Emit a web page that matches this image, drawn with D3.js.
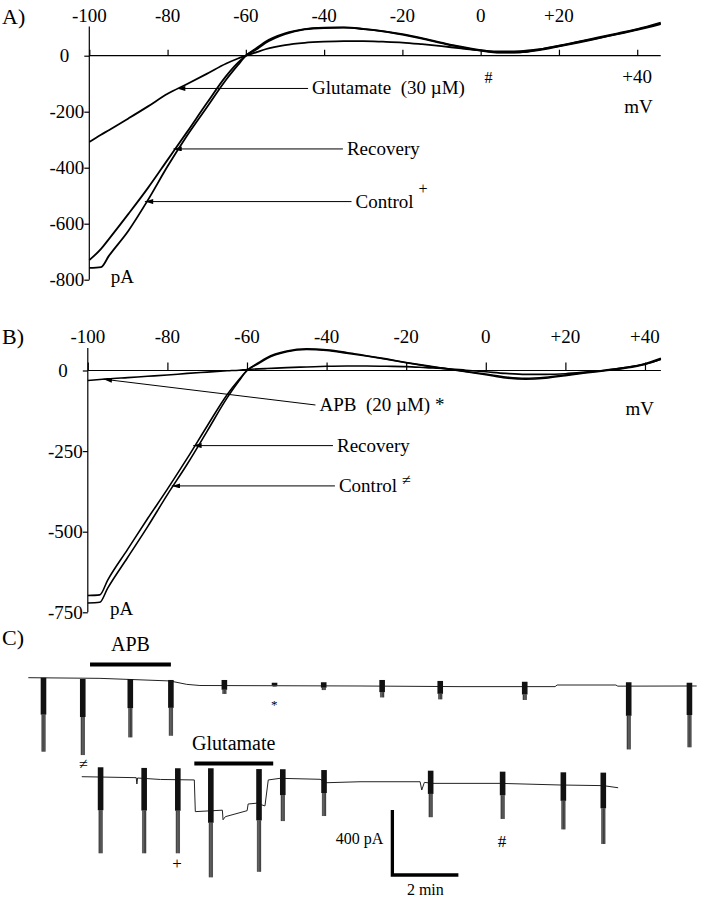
<!DOCTYPE html>
<html><head><meta charset="utf-8">
<script src="https://cdn.jsdelivr.net/npm/d3@7"></script>
<style>
body{margin:0;background:#fff}
svg{display:block}
text{font-family:"Liberation Serif","Times New Roman",Times,serif;fill:#000;white-space:pre}
</style></head><body>
<svg id="fig" width="702" height="900" font-family="Liberation Serif, Times New Roman, serif"></svg>
<script>
// ---------------- DATA ----------------
// Panel A: I–V curves (mV, pA)
const voltageA   = [-100,-97,-95,-90,-85,-80,-75,-70,-65,-62,-60,-57,-55,-50,-45,-40,-35,-30,-25,-20,-15,-10,-5,0,5,10,15,20,25,30,35,40,46];
const glutamateA = [-308,-282,-266,-224,-181,-136,-101,-65,-28,-10,0,14,23,38,46,50,52,52,50,47,41,34,26,19,15,16,23,35,49,63,78,94,115];
const recoveryA  = [-730,-690,-655,-565,-472,-372,-272,-170,-72,-25,0,30,50,80,95,100,101,96,88,77,63,47,32,20,12,12,22,36,50,65,80,95,118];
const controlA   = [-758,-755,-715,-625,-515,-395,-285,-185,-85,-33,0,25,45,77,94,99,100,95,87,75,61,45,30,18,11,12,20,33,47,62,77,92,113];
const xTicksA = [-100,-80,-60,-40,-20,0,20,40];
const yTicksA = [0,-200,-400,-600,-800];

// Panel B: I–V curves (mV, pA)
const voltageB  = [-100,-97,-95,-90,-85,-80,-75,-70,-65,-62,-60,-57,-55,-50,-45,-40,-35,-30,-25,-20,-15,-10,-5,0,5,10,15,20,25,30,35,40,44];
const apbB      = [-31,-28,-26,-22,-18,-14,-9,-5,-1,1,3,5,6,9,11,13,14,14,13,12,9,6,1,-4,-9,-12,-12,-10,-5,1,9,20,35];
const recoveryB = [-698,-696,-650,-555,-460,-368,-272,-172,-75,-28,0,25,40,60,67,64,56,46,36,25,15,6,-3,-11,-20,-24,-21,-14,-6,1,9,21,38];
const controlB  = [-721,-719,-675,-580,-485,-385,-290,-188,-85,-32,0,22,37,58,65,62,54,45,35,24,14,5,-4,-13,-23,-27,-24,-16,-8,-1,7,19,35];
const xTicksB = [-100,-80,-60,-40,-20,0,20,40];
const yTicksB = [0,-250,-500,-750];

// Panel C: holding-current records (time in min, current in pA)
const topBaseT = [0,2.17,4.29,4.80,5.2,10.05,13.08,15.96,16.02,17.8,17.86,20.25];
const topBaseI = [0,-4,-20,-41,-48,-51,-55,-55,-45,-45,-52,-51];
const topSpikeT    = [0.46,1.65,3.09,4.32,5.94,7.46,8.95,10.72,12.48,15.04,18.19,20.03];
const topSpikeTop  = [0,-8,-8,-14,-14,-31,-28,-14,-20,-25,-28,-31];
const topSpikePeak = [-455,-476,-367,-357,-100,-55,-76,-121,-133,-137,-441,-428];

const botBaseT = [1.62,3.27,3.29,3.31,4.0,5.03,5.06,5.88,5.9,5.97,6.63,6.66,6.92,7.17,7.27,7.63,8.84,9.05,10.05,11.87,11.92,12.0,12.26,14.29,16.11,17.42,17.87];
const botBaseI = [0,-6,-45,-8,-17,-20,-215,-206,-265,-246,-209,-168,-163,-180,-20,-10,-16,-37,-31,-31,-82,-35,-41,-41,-51,-55,-68];
const botSpikeT    = [2.19,3.51,4.53,5.53,6.99,7.71,8.96,12.19,14.37,16.21,17.42];
const botSpikeTop  = [58,54,52,52,47,46,41,37,31,27,25];
const botSpikePeak = [-471,-471,-471,-619,-585,-273,-242,-249,-260,-324,-414];

const drugNames = ["APB","Glutamate"];
const drugRow   = [0,1];
const drugStart = [1.87,5.03];
const drugEnd   = [4.32,7.42];

// ---------------- DRAWING ----------------
const FONT = "Liberation Serif, Times New Roman, serif";
const svg = d3.select("#fig");
svg.append("rect").attr("width",702).attr("height",900).attr("fill","#fff");
const defs = svg.append("defs");
defs.append("marker").attr("id","arrow").attr("viewBox","0 0 10 6")
  .attr("refX",10).attr("refY",3).attr("markerWidth",9).attr("markerHeight",5)
  .attr("markerUnits","userSpaceOnUse").attr("orient","auto")
  .append("path").attr("d","M0,0L10,3L0,6Z").attr("fill","#000");

const fmtV = v => v > 0 ? "+" + v : String(v);

function drawIV(p){
  const g = svg.append("g");
  const x = d3.scaleLinear().domain([p.vMin,p.vMax]).range(p.xRange);
  const y = d3.scaleLinear().domain([0,p.iMin]).range(p.yRange);
  // y axis
  g.append("line").attr("x1",x(p.vMin)).attr("x2",x(p.vMin))
    .attr("y1",y(p.iTop)).attr("y2",y(p.iMin)).attr("stroke","#000").attr("stroke-width",1.2);
  const ya = g.append("g").attr("transform",`translate(${x(p.vMin)},0)`)
    .call(d3.axisLeft(y).tickValues(p.yTicks).tickSize(5).tickPadding(0).tickFormat(d=>String(d)));
  ya.attr("font-family",FONT);
  ya.select(".domain").remove();
  ya.selectAll("line").attr("stroke-width",1.2);
  ya.selectAll("text").attr("font-size",19).attr("dy","0.33em").attr("font-family",FONT);
  ya.selectAll("text").filter(d=>d===0).attr("x",-20);
  // x axis at zero current
  g.append("line").attr("x1",x(p.vMin)).attr("x2",x(p.vMax))
    .attr("y1",y(0)).attr("y2",y(0)).attr("stroke","#000").attr("stroke-width",1.2);
  const xa = g.append("g").attr("transform",`translate(0,${y(0)})`)
    .call(d3.axisTop(x).tickValues(p.xTicks).tickSize(p.tickLen).tickFormat(""));
  xa.select(".domain").remove();
  xa.selectAll("line").attr("stroke-width",1.2);
  g.selectAll("text.xl").data(p.xTicks).join("text").attr("class","xl")
    .attr("x",d=>x(d)).attr("y",d=>p.below.includes(d)?p.belowBaseline:p.topBaseline)
    .attr("text-anchor","middle").attr("font-size",19).text(fmtV);
  // curves
  const line = d3.line().x(d=>x(d[0])).y(d=>y(d[1])).curve(d3.curveMonotoneX);
  p.series.forEach(s=>{
    g.append("path").datum(p.voltage.map((v,k)=>[v,s[k]])).attr("d",line)
      .attr("fill","none").attr("stroke","#000").attr("stroke-width",p.sw).attr("stroke-linejoin","round");
  });
  // annotations with arrows
  p.annot.forEach(a=>{
    const ti = a.tipI===undefined ? a.i : a.tipI;
    g.append("line").attr("x1",x(a.tailV)).attr("y1",y(a.i)).attr("x2",x(a.tipV)).attr("y2",y(ti))
      .attr("stroke","#000").attr("stroke-width",1).attr("marker-end","url(#arrow)");
    const t = g.append("text").attr("x",x(a.tailV)+4).attr("y",y(a.i)+6).attr("font-size",19).text(a.label);
    if(a.sup) t.append("tspan").attr("dx",5).attr("dy",a.supDy).attr("font-size",16).text(a.sup);
  });
  // loose labels
  p.labels.forEach(l=>{
    g.append("text").attr("x",x(l.v)).attr("y",y(l.i)).attr("text-anchor",l.anchor||"start")
      .attr("font-size",l.size||19).text(l.text);
  });
}

drawIV({
  vMin:-100, vMax:46, xRange:[89.3,660.7], iMin:-800, iTop:104, yRange:[55.7,279.7],
  xTicks:xTicksA, yTicks:yTicksA, tickLen:6, below:[40], topBaseline:21.7, belowBaseline:83.3,
  voltage:voltageA, series:[glutamateA,recoveryA,controlA], sw:1.8,
  annot:[
    {label:"Glutamate  (30 µM)", tipV:-77.6, tailV:-44.1, i:-117},
    {label:"Recovery", tipV:-78.5, tailV:-35.2, i:-333},
    {label:"Control", sup:"+", supDy:-14, tipV:-85.8, tailV:-33.0, i:-521}
  ],
  labels:[
    {text:"#", v:2.0, i:-98.6, anchor:"middle", size:16},
    {text:"mV", v:40.3, i:-206, anchor:"middle"},
    {text:"pA", v:-94.5, i:-813}
  ]
});

drawIV({
  vMin:-100, vMax:44, xRange:[87.8,660.9], iMin:-750, iTop:70, yRange:[370.5,612.3],
  xTicks:xTicksB, yTicks:yTicksB, tickLen:8, below:[], topBaseline:343.3, belowBaseline:0,
  voltage:voltageB, series:[apbB,recoveryB,controlB], sw:1.6,
  annot:[
    {label:"APB  (20 µM) *", tipV:-96, tipI:-27, tailV:-42.8, i:-107},
    {label:"Recovery", tipV:-73.5, tailV:-38.4, i:-233},
    {label:"Control", sup:"≠", supDy:-7, tipV:-78.9, tailV:-37.9, i:-358}
  ],
  labels:[
    {text:"mV", v:38.7, i:-138, anchor:"middle"},
    {text:"pA", v:-94.4, i:-758}
  ]
});

// panel letters
[["A)",24],["B)",344],["C)",645]].forEach(([t,yy])=>{
  svg.append("text").attr("x",2).attr("y",yy).attr("font-size",22).text(t);
});

// ---------------- Panel C ----------------
const tC = d3.scaleLinear().domain([0,20.25]).range([28.3,696.7]);   // 33 px / min
const iC = d3.scaleLinear().domain([0,-400]).range([0,65]);          // 65 px / 400 pA
const rowY = [677.7,776.7];
const rows = [
  {baseT:topBaseT, baseI:topBaseI, sT:topSpikeT, sTop:topSpikeTop, sPeak:topSpikePeak},
  {baseT:botBaseT, baseI:botBaseI, sT:botSpikeT, sTop:botSpikeTop, sPeak:botSpikePeak}
];
const traceLine = d3.line().x(d=>tC(d[0])).y(d=>iC(d[1]));
rows.forEach((r,ri)=>{
  const g = svg.append("g").attr("transform",`translate(0,${rowY[ri]})`);
  g.append("path").datum(r.baseT.map((t,k)=>[t,r.baseI[k]])).attr("d",traceLine)
    .attr("fill","none").attr("stroke","#222").attr("stroke-width",1);
  r.sT.forEach((t,k)=>{
    const y0 = iC(r.sTop[k]), y1 = iC(r.sPeak[k]);
    const frac = (y1-y0) < 30 ? 0.7 : 0.5;
    const yh = y0 + (y1-y0)*frac;
    const xc = tC(t);
    g.append("rect").attr("x",xc-2.2).attr("y",yh).attr("width",4.4).attr("height",y1-yh).attr("fill","#8c8c8c");
    [-1.2,0.2,1.4].forEach(o=>g.append("line").attr("x1",xc+o).attr("x2",xc+o).attr("y1",yh).attr("y2",y1)
      .attr("stroke","#2a2a2a").attr("stroke-width",0.8));
    g.append("rect").attr("x",xc-2.8).attr("y",y0).attr("width",5.6).attr("height",yh-y0).attr("fill","#111");
  });
});
// drug application bars
drugNames.forEach((n,k)=>{
  const g = svg.append("g").attr("transform",`translate(0,${rowY[drugRow[k]]})`);
  g.append("line").attr("x1",tC(drugStart[k])).attr("x2",tC(drugEnd[k]))
    .attr("y1",iC(82)).attr("y2",iC(82)).attr("stroke","#000").attr("stroke-width",4);
  g.append("text").attr("x",(tC(drugStart[k])+tC(drugEnd[k]))/2).attr("y",iC(82)-13)
    .attr("text-anchor","middle").attr("font-size",20).text(n);
});
// markers linking to I–V panels
const markSym = ["≠","+","*","#"];
const markRow = [1,1,0,1];
const markT   = [1.67,4.51,7.45,14.35];
const markI   = [47,-571,-193,-431];
const markSize= [16,17,13,17];
markSym.forEach((s,k)=>{
  svg.append("text").attr("x",tC(markT[k])).attr("y",rowY[markRow[k]]+iC(markI[k]))
    .attr("text-anchor","middle").attr("font-size",markSize[k]).text(s);
});
// scale bar: 400 pA, 2 min
const sbT = 11.03, sbI = -205;
const gs = svg.append("g").attr("transform",`translate(0,${rowY[1]})`);
gs.append("path").attr("d",`M${tC(sbT)},${iC(sbI)}V${iC(sbI-400)}H${tC(sbT+2)}`)
  .attr("fill","none").attr("stroke","#000").attr("stroke-width",3.3);
gs.append("text").attr("x",tC(sbT)-9).attr("y",iC(-414)).attr("text-anchor","end").attr("font-size",16).text("400 pA");
gs.append("text").attr("x",tC(sbT+1)).attr("y",iC(sbI-400)+20).attr("text-anchor","middle").attr("font-size",16).text("2 min");
</script>
</body></html>
